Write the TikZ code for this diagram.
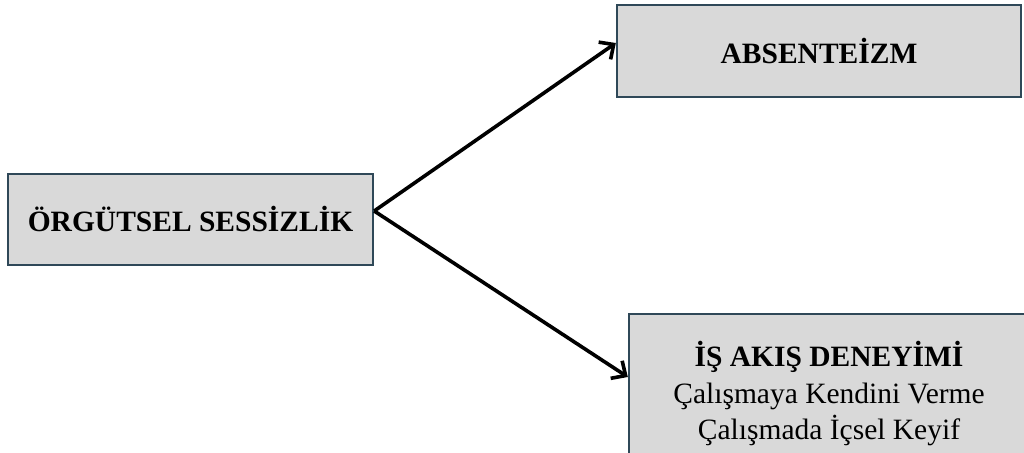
\documentclass[tikz,border=0pt]{standalone}
\usepackage{fontspec}
\setmainfont{Liberation Serif}
\usetikzlibrary{arrows.meta}
\definecolor{boxfill}{RGB}{217,217,217}
\definecolor{boxline}{RGB}{47,72,88}
\begin{document}
\begin{tikzpicture}[x=1pt,y=1pt,
  box/.style={draw=boxline, line width=2.4pt, fill=boxfill, inner sep=0pt, align=center,
    font=\fontsize{29.5}{36.5}\selectfont},
  conn/.style={line width=3.6pt, -{Straight Barb[length=11pt,width=21pt,line width=3.6pt]}}]
\useasboundingbox (0,0) rectangle (1024,-452);
\node[box, minimum width=365pt, minimum height=91pt] (a) at (190.5,-219.5) {\textbf{ÖRGÜTSEL SESSİZLİK}};
\node[box, minimum width=404pt, minimum height=92pt] (b) at (819,-51) {\textbf{ABSENTEİZM}};
\node[box, minimum width=400pt, minimum height=160pt] (c) at (829,-394) {\textbf{İŞ AKIŞ DENEYİMİ}\\Çalışmaya Kendini Verme\\Çalışmada İçsel Keyif};
\draw[conn] ([yshift=8.5pt]a.east) -- ([yshift=8pt]b.west);
\draw[conn] ([yshift=8.5pt]a.east) -- ([yshift=17pt]c.west);
\end{tikzpicture}
\end{document}
